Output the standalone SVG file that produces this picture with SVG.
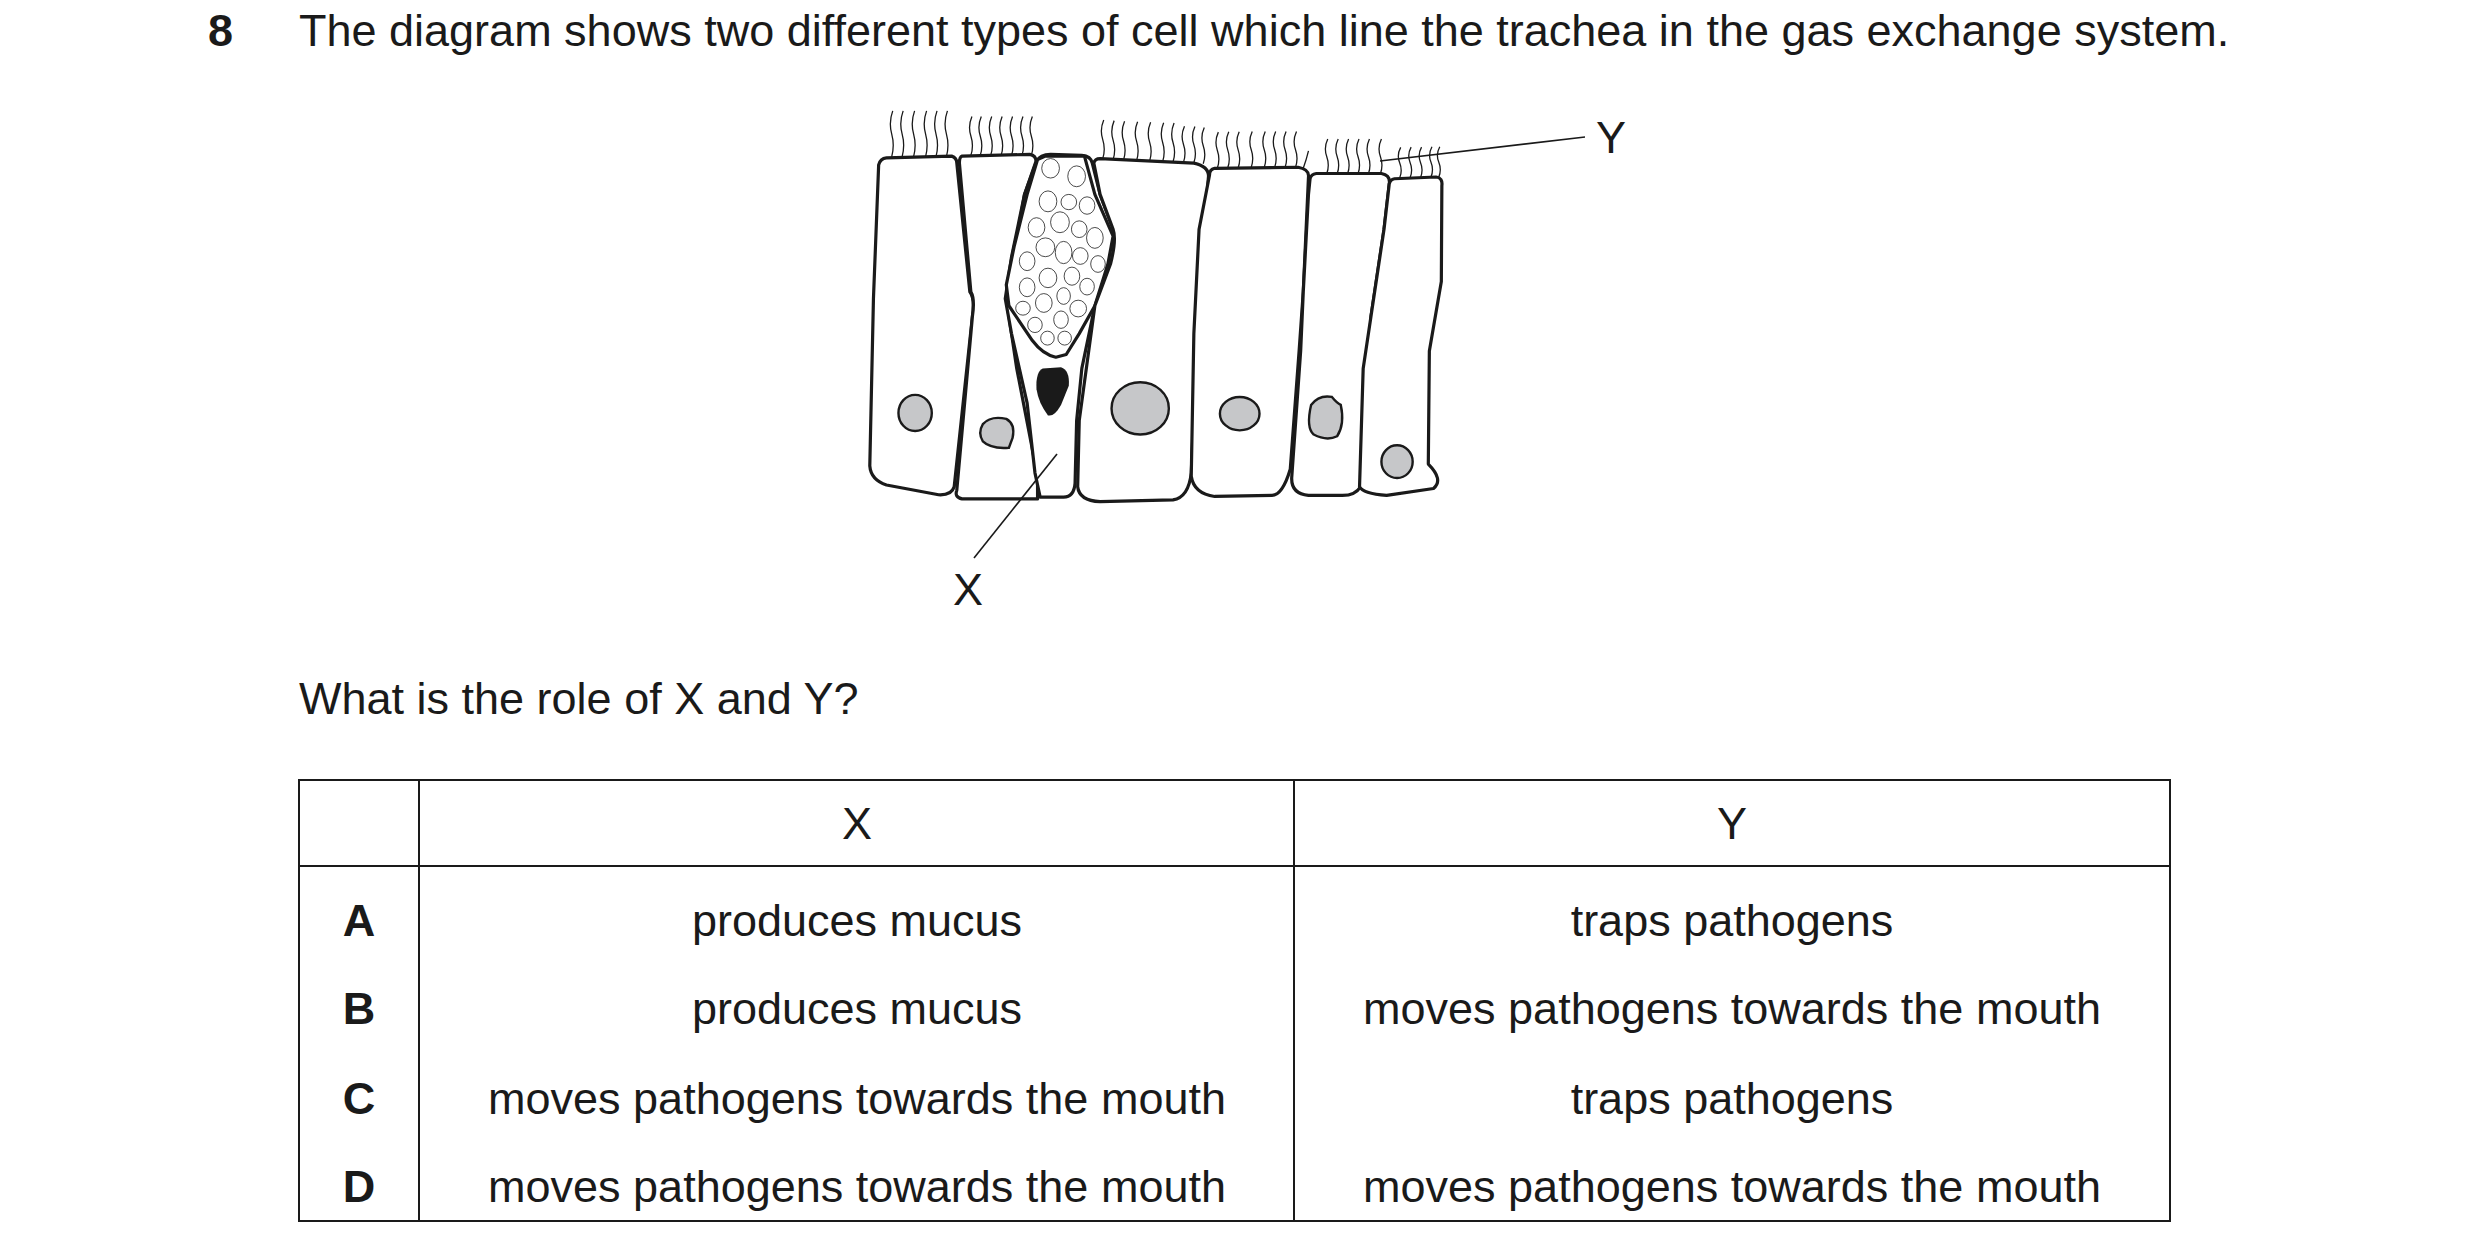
<svg xmlns="http://www.w3.org/2000/svg" width="2480" height="1250" viewBox="0 0 2480 1250">
<style>
text{font-family:"Liberation Sans",Arial,sans-serif;font-size:45px;fill:#1a1a1a}
.c{text-anchor:middle}
.b{font-weight:bold}
.cell{fill:#fff;stroke:#1a1a1a;stroke-width:3.2;stroke-linejoin:round;vector-effect:non-scaling-stroke}
.cil{fill:none;stroke:#1a1a1a;stroke-width:1.3;vector-effect:non-scaling-stroke}
.nuc{fill:#c6c7c9;stroke:#1a1a1a;stroke-width:2.4;vector-effect:non-scaling-stroke}
.gr{fill:#fff;stroke:#1a1a1a;stroke-width:1.8;vector-effect:non-scaling-stroke}
.ln{stroke:#1a1a1a;stroke-width:1.6;fill:none}
.tb{stroke:#1a1a1a;stroke-width:2;fill:none}
</style>
<text x="208" y="46" class="b">8</text>
<text x="299" y="46">The diagram shows two different types of cell which line the trachea in the gas exchange system.</text>
<g id="cells" transform="matrix(0.521 0 0 0.348 850 90)">
<path class="cil" d="M80,192 q6,-33 0,-66 q-6,-33 2,-66 M100,192 q6,-33 0,-66 q-6,-33 2,-66 M122,192 q6,-33 0,-66 q-6,-33 2,-66 M145,192 q6,-33 0,-66 q-6,-33 2,-66 M165,192 q6,-33 0,-66 q-6,-33 2,-66 M185,192 q6,-33 0,-66 q-6,-33 2,-66 M232,188 q6,-28 0,-56 q-6,-28 2,-56 M250,188 q6,-28 0,-56 q-6,-28 2,-56 M270,188 q6,-28 0,-56 q-6,-28 2,-56 M290,188 q6,-28 0,-56 q-6,-28 2,-56 M310,188 q6,-28 0,-56 q-6,-28 2,-56 M330,188 q6,-28 0,-56 q-6,-28 2,-56 M348,188 q6,-28 0,-56 q-6,-28 2,-56 M485,198 q6,-28 0,-56 q-6,-28 2,-56 M505,200 q6,-28 0,-56 q-6,-28 2,-56 M525,202 q6,-28 0,-56 q-6,-28 2,-56 M550,203 q6,-28 0,-56 q-6,-28 2,-56 M575,205 q6,-28 0,-56 q-6,-28 2,-56 M600,206 q6,-28 0,-56 q-6,-28 2,-56 M620,207 q6,-28 0,-56 q-6,-28 2,-56 M640,208 q6,-26 0,-52 q-6,-26 2,-52 M660,209 q6,-26 0,-52 q-6,-26 2,-52 M678,212 q6,-26 0,-52 q-6,-26 2,-52 M705,225 q6,-26 0,-52 q-6,-26 2,-52 M725,224 q6,-26 0,-52 q-6,-26 2,-52 M745,224 q6,-26 0,-52 q-6,-26 2,-52 M770,223 q6,-26 0,-52 q-6,-26 2,-52 M795,223 q6,-26 0,-52 q-6,-26 2,-52 M815,223 q6,-26 0,-52 q-6,-26 2,-52 M835,223 q6,-26 0,-52 q-6,-26 2,-52 M855,223 q6,-26 0,-52 q-6,-26 2,-52 M870,225 q6,-25 10,-50 M915,241 q6,-25 0,-50 q-6,-25 2,-50 M935,241 q6,-25 0,-50 q-6,-25 2,-50 M955,241 q6,-25 0,-50 q-6,-25 2,-50 M975,241 q6,-25 0,-50 q-6,-25 2,-50 M995,241 q6,-25 0,-50 q-6,-25 2,-50 M1018,241 q6,-25 0,-50 q-6,-25 2,-50 M1055,253 q6,-22 0,-44 q-6,-22 2,-44 M1075,252 q6,-22 0,-44 q-6,-22 2,-44 M1095,252 q6,-22 0,-44 q-6,-22 2,-44 M1115,251 q6,-22 0,-44 q-6,-22 2,-44 M1130,251 q6,-22 0,-44 q-6,-22 2,-44"/>
<g id="cell1"><path class="cell" d="M70,195 L195,190 Q205,195 205,210 L230,580 Q240,600 235,650 L200,1140 Q195,1165 170,1163 L70,1135 Q40,1120 38,1080 L45,600 L55,215 Q58,197 70,195 Z"/><ellipse class="nuc" cx="125" cy="928" rx="32" ry="52"/></g>
<g id="cell2"><path class="cell" d="M215,190 L345,185 Q357,188 357,205 L335,300 L300,600 L320,800 L360,1110 L360,1175 L215,1175 Q200,1170 205,1150 L235,650 Q240,600 232,580 L210,210 Q210,192 215,190 Z"/><path class="nuc" d="M255,960 Q270,935 300,945 Q318,960 312,1000 L305,1028 Q270,1032 255,1010 Q245,985 255,960 Z"/></g>
<g id="goblet"><path class="cell" d="M365,1170 L355,1100 L340,900 L310,700 L298,600 L310,480 L335,300 L358,205 Q365,185 385,185 L445,188 Q462,190 465,210 L480,300 L505,400 Q512,430 500,500 L470,620 L445,800 L435,950 L432,1130 Q430,1170 410,1170 Z"/>
<path class="cell" d="M375,190 L450,190 L470,300 L505,420 L495,500 L470,620 L440,700 L415,760 L395,768 Q370,760 350,720 L305,620 L300,560 L315,450 L340,300 L360,200 Z"/>
<g class="gr"><ellipse cx="385" cy="225" rx="17" ry="28"/><ellipse cx="435" cy="248" rx="17" ry="30"/><ellipse cx="380" cy="320" rx="17" ry="30"/><ellipse cx="420" cy="322" rx="15" ry="22"/><ellipse cx="455" cy="332" rx="15" ry="25"/><ellipse cx="358" cy="395" rx="16" ry="28"/><ellipse cx="403" cy="380" rx="18" ry="30"/><ellipse cx="440" cy="400" rx="15" ry="24"/><ellipse cx="470" cy="425" rx="16" ry="30"/><ellipse cx="375" cy="452" rx="18" ry="27"/><ellipse cx="410" cy="467" rx="16" ry="32"/><ellipse cx="442" cy="477" rx="15" ry="24"/><ellipse cx="476" cy="500" rx="14" ry="24"/><ellipse cx="340" cy="492" rx="15" ry="27"/><ellipse cx="380" cy="540" rx="17" ry="28"/><ellipse cx="426" cy="535" rx="15" ry="26"/><ellipse cx="455" cy="565" rx="14" ry="24"/><ellipse cx="340" cy="567" rx="15" ry="27"/><ellipse cx="410" cy="592" rx="13" ry="24"/><ellipse cx="372" cy="612" rx="16" ry="27"/><ellipse cx="332" cy="627" rx="14" ry="20"/><ellipse cx="438" cy="628" rx="16" ry="24"/><ellipse cx="405" cy="660" rx="14" ry="25"/><ellipse cx="355" cy="675" rx="14" ry="22"/><ellipse cx="379" cy="713" rx="13" ry="20"/><ellipse cx="412" cy="713" rx="13" ry="20"/></g>
<path d="M370,800 L405,797 Q422,805 420,850 L405,905 Q392,940 380,935 Q362,900 358,860 Q356,810 370,800 Z" fill="#1a1a1a"/></g>
<g id="cell4"><path class="cell" d="M480,197 L660,210 Q690,220 688,250 L670,580 L655,1100 Q650,1170 620,1178 L480,1183 Q440,1180 437,1140 L440,950 L470,620 L500,500 Q512,430 505,400 L480,300 L468,210 Q470,197 480,197 Z"/><ellipse class="nuc" cx="557" cy="915" rx="55" ry="75"/></g>
<g id="cell5"><path class="cell" d="M700,225 L860,222 Q882,228 880,250 L870,580 L862,750 L845,1090 Q830,1165 810,1165 L700,1168 Q660,1160 655,1110 L660,700 L670,400 L690,245 Q690,228 700,225 Z"/><ellipse class="nuc" cx="748" cy="930" rx="38" ry="48"/></g>
<g id="cell6"><path class="cell" d="M895,240 L1020,240 Q1038,245 1035,270 L1025,400 L1000,650 L980,1140 Q970,1165 945,1165 L880,1165 Q845,1160 848,1110 L865,750 L870,580 L880,300 L883,255 Q885,242 895,240 Z"/><path class="nuc" d="M885,905 Q900,875 925,882 Q935,900 942,905 Q950,960 935,995 Q915,1010 890,990 Q875,970 885,905 Z"/></g>
<g id="cell7"><path class="cell" d="M1045,255 L1125,250 Q1138,252 1136,275 L1135,550 L1112,750 L1110,1075 Q1140,1120 1120,1145 L1030,1165 Q985,1160 978,1140 L985,800 L1000,650 L1025,400 L1035,270 Q1037,257 1045,255 Z"/><ellipse class="nuc" cx="1050" cy="1068" rx="30" ry="47"/></g>
</g>
<g id="connectors">
<line class="ln" x1="1057" y1="454" x2="974" y2="558"/>
<line class="ln" x1="1380" y1="161" x2="1585" y2="137"/>
</g>
<text x="968" y="605" class="c">X</text>
<text x="1611" y="153" class="c">Y</text>
<text x="299" y="714">What is the role of X and Y?</text>
<g id="table">
<rect class="tb" x="299" y="780" width="1871" height="441"/>
<line class="tb" x1="419" y1="780" x2="419" y2="1221"/>
<line class="tb" x1="1294" y1="780" x2="1294" y2="1221"/>
<line class="tb" x1="299" y1="866" x2="2170" y2="866"/>
<text x="857" y="839" class="c">X</text>
<text x="1732" y="839" class="c">Y</text>
<text x="359" y="936" class="c b">A</text>
<text x="359" y="1024" class="c b">B</text>
<text x="359" y="1114" class="c b">C</text>
<text x="359" y="1202" class="c b">D</text>
<text x="857" y="936" class="c">produces mucus</text>
<text x="857" y="1024" class="c">produces mucus</text>
<text x="857" y="1114" class="c">moves pathogens towards the mouth</text>
<text x="857" y="1202" class="c">moves pathogens towards the mouth</text>
<text x="1732" y="936" class="c">traps pathogens</text>
<text x="1732" y="1024" class="c">moves pathogens towards the mouth</text>
<text x="1732" y="1114" class="c">traps pathogens</text>
<text x="1732" y="1202" class="c">moves pathogens towards the mouth</text>
</g>
</svg>
